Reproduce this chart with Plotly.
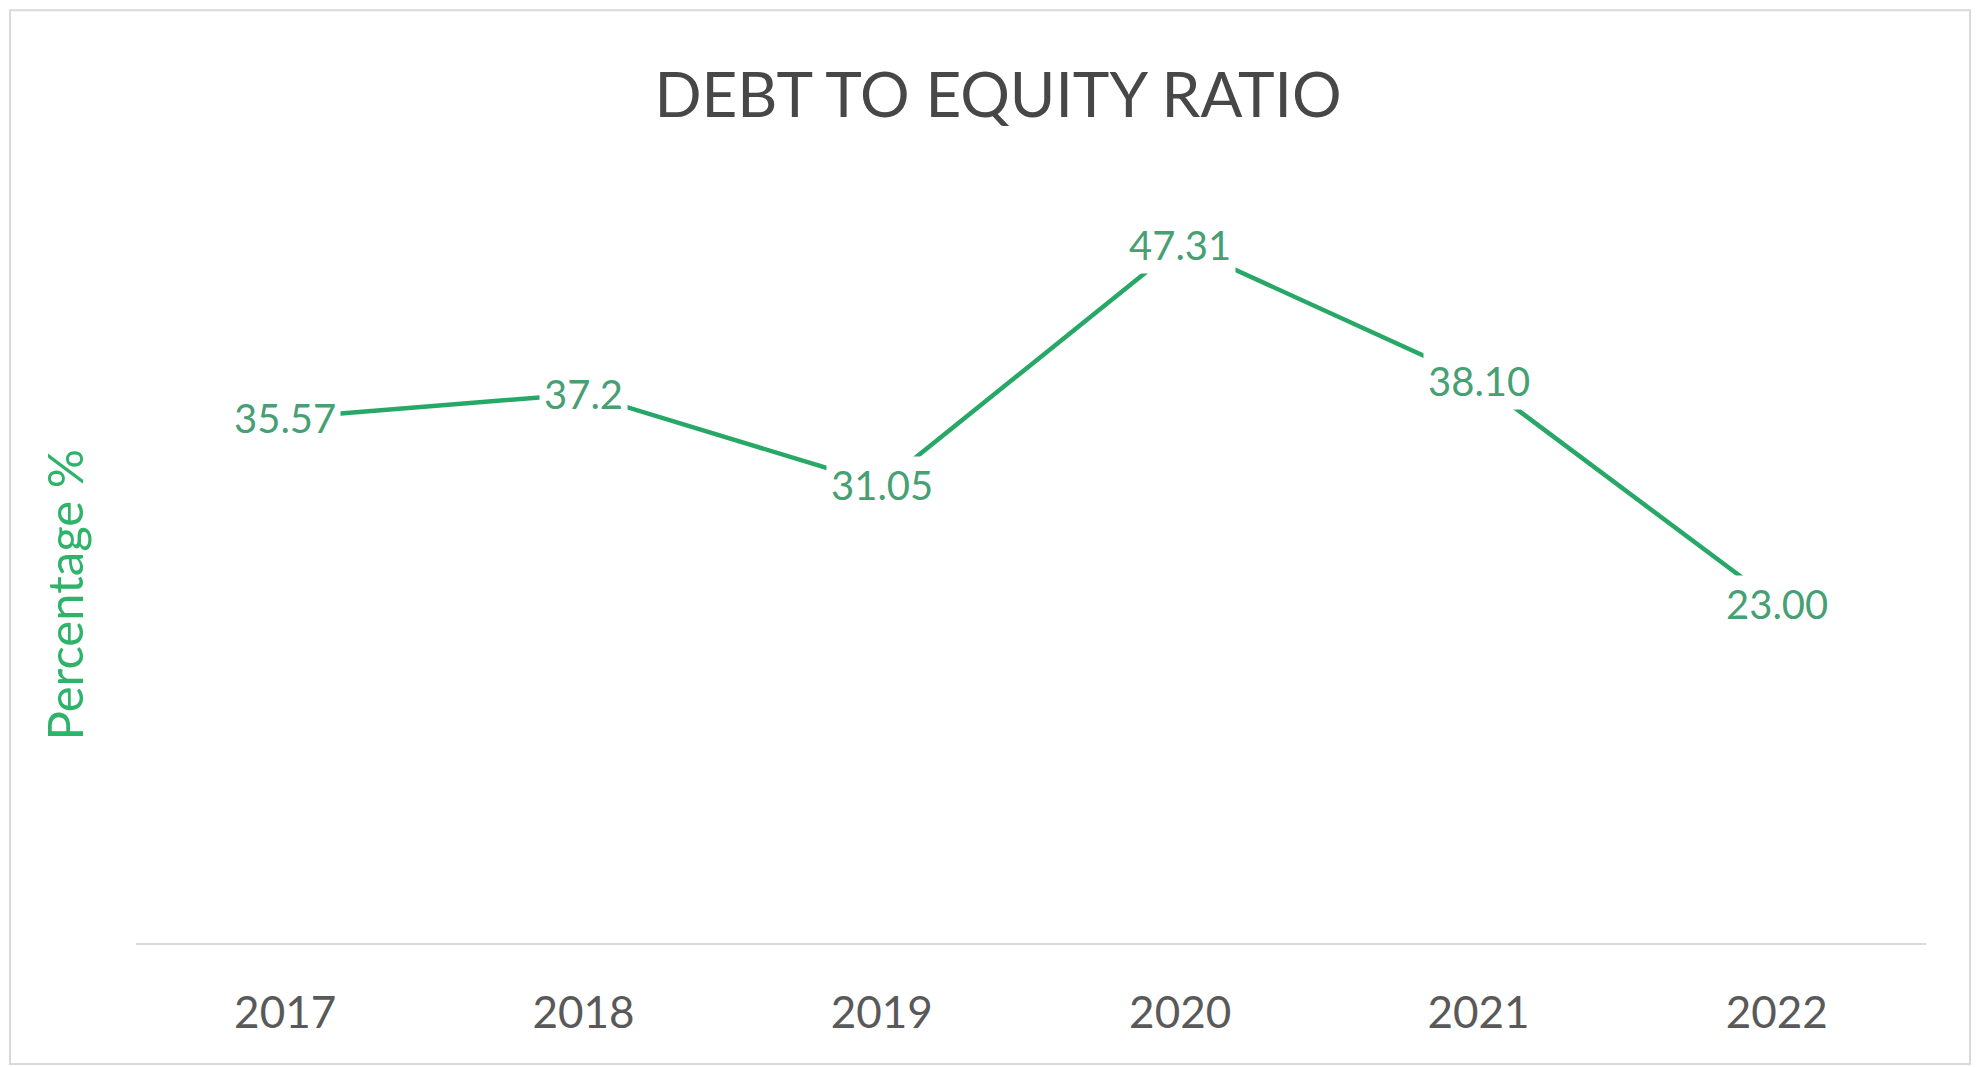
import plotly.graph_objects as go

years = ["2017", "2018", "2019", "2020", "2021", "2022"]
ratios = [35.57, 37.2, 31.05, 47.31, 38.10, 23.00]
labels = ["35.57", "37.2", "31.05", "47.31", "38.10", "23.00"]

LINE = "#27a866"
LABEL = "#47a074"
FONT = "Lato, 'Open Sans', sans-serif"

fig = go.Figure()
fig.add_trace(go.Scatter(
    x=years, y=ratios, mode="lines",
    line=dict(color=LINE, width=4.5),
    hoverinfo="skip", showlegend=False,
))

for i, (y, t) in enumerate(zip(ratios, labels)):
    fig.add_annotation(
        x=i, y=y, xref="x", yref="y", text=t, showarrow=False,
        xanchor="center", yanchor="middle",
        bgcolor="white", borderpad=4,
        font=dict(family=FONT, size=40, color=LABEL),
    )

fig.add_annotation(
    xref="paper", yref="paper", x=-0.040, y=0.4715,
    text="Percentage %", textangle=-90, showarrow=False,
    xanchor="center", yanchor="middle",
    font=dict(family=FONT, size=49, color="#2db36a"),
)

fig.add_shape(
    type="rect", xref="paper", yref="paper",
    x0=-0.0704, x1=1.0246, y0=-0.164, y1=1.264,
    line=dict(color="#d9d9d9", width=2), fillcolor="rgba(0,0,0,0)", layer="below",
)

fig.update_layout(
    width=1980, height=1067,
    margin=dict(l=128, r=62, t=197, b=132),
    paper_bgcolor="white", plot_bgcolor="white",
    title=dict(
        text="DEBT TO EQUITY RATIO", x=0.5, xanchor="center",
        y=0.918, yanchor="middle",
        font=dict(family=FONT, size=62, color="#474747"),
    ),
    xaxis=dict(
        type="category", range=[-0.5, 5.5],
        showgrid=False, zeroline=False,
        showline=True, linecolor="#d9d9d9", linewidth=2,
        ticks="", ticklabelstandoff=30,
        tickfont=dict(family=FONT, size=44, color="#595959"),
    ),
    yaxis=dict(
        range=[0, 50], showgrid=False, zeroline=False,
        showline=False, showticklabels=False, ticks="",
    ),
)

fig.write_html("out.html")
